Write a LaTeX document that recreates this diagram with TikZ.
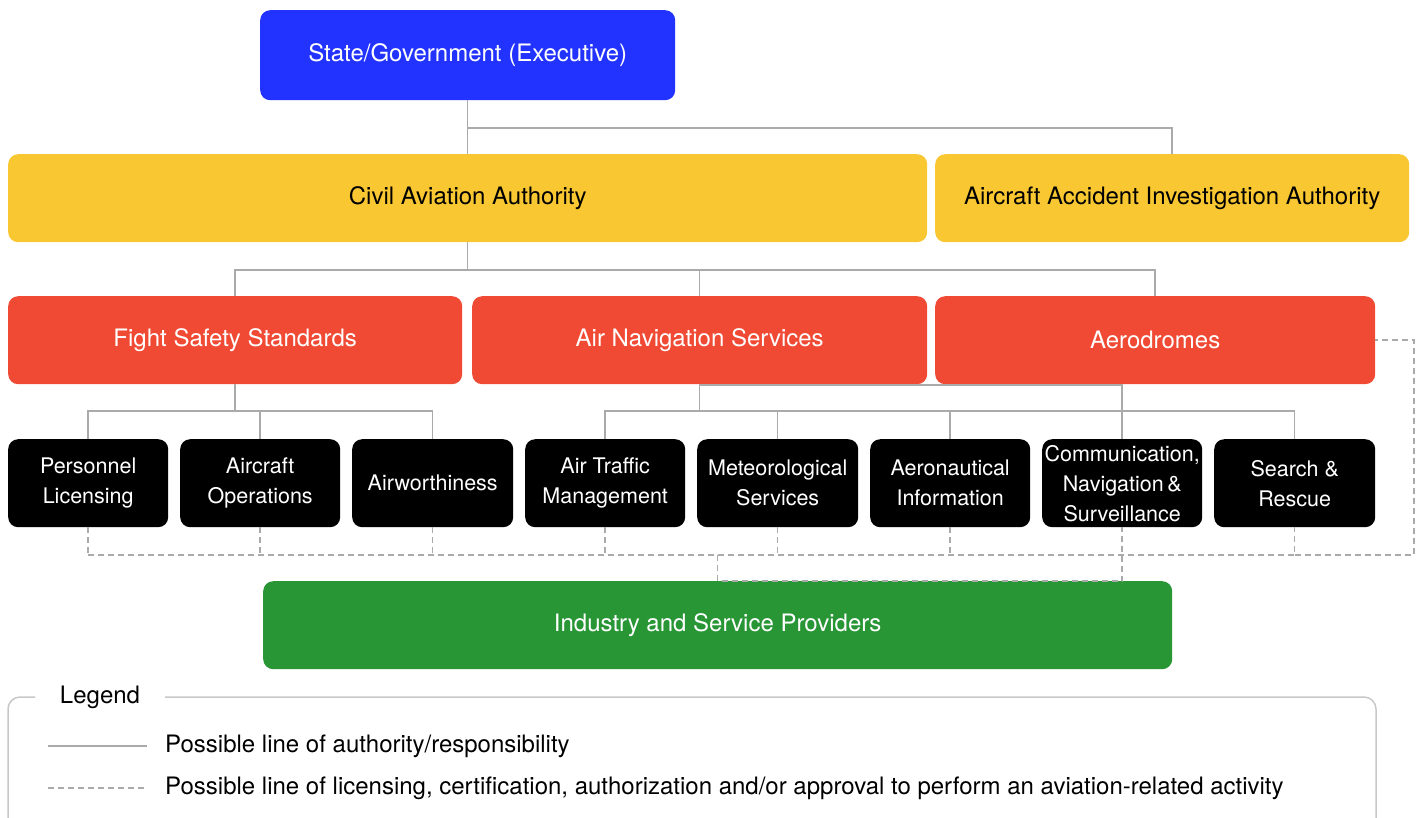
\documentclass[tikz,border=0pt]{standalone}
\usepackage{fontspec}
\setmainfont{TeX Gyre Heros}
\definecolor{govblue}{RGB}{34,51,255}
\definecolor{caayellow}{RGB}{248,199,50}
\definecolor{secred}{RGB}{240,74,52}
\definecolor{indgreen}{RGB}{41,150,54}
\definecolor{linegray}{RGB}{170,170,170}
\definecolor{leggray}{RGB}{200,200,200}
\begin{document}
\begin{tikzpicture}[x=1pt,y=-1pt,
  box/.style={rounded corners=10pt, inner sep=0pt, anchor=north west, align=center,
    font=\fontsize{24}{30}\selectfont},
  wbox/.style={box, text=white},
  sbox/.style={wbox, fill=black, minimum height=88pt, font=\fontsize{21.5}{30}\selectfont},
  conn/.style={draw=linegray, line width=1.5pt},
  dconn/.style={draw=linegray, line width=1.5pt, dash pattern=on 6pt off 4pt},
  legtext/.style={anchor=west, inner sep=0pt, font=\fontsize{24}{28}\selectfont}]
\useasboundingbox (0,0) rectangle (1418,817);
% level 0
\node[wbox, fill=govblue, minimum width=415pt, minimum height=90pt] (gov) at (260,10) {State/Government (Executive)};
% level 1
\node[box, fill=caayellow, minimum width=919pt, minimum height=88pt] (caa) at (8,154) {Civil Aviation Authority};
\node[box, fill=caayellow, minimum width=474pt, minimum height=88pt] (aaia) at (935,154) {Aircraft Accident Investigation Authority};
% level 2
\node[wbox, fill=secred, minimum width=454pt, minimum height=88pt] (fss) at (8,296) {Fight Safety Standards};
\node[wbox, fill=secred, minimum width=455pt, minimum height=88pt] (ans) at (472,296) {Air Navigation Services};
\node[wbox, fill=secred, minimum width=440pt, minimum height=88pt] (aero) at (935,296) {Aerodromes};
% level 3
\node[sbox, minimum width=160pt] (pl) at (8,439) {Personnel\\Licensing};
\node[sbox, minimum width=160pt] (ao) at (180,439) {Aircraft\\Operations};
\node[sbox, minimum width=161pt] (aw) at (352,439) {Airworthiness};
\node[sbox, minimum width=160pt] (atm) at (525,439) {Air Traffic\\Management};
\node[sbox, minimum width=161pt] (met) at (697,439) {Meteorological\\Services};
\node[sbox, minimum width=160pt] (ai) at (870,439) {Aeronautical\\Information};
\node[sbox, minimum width=160pt] (cns) at (1042,439) {Communication,\\Navigation\,\&\\Surveillance};
\node[sbox, minimum width=161pt] (sar) at (1214,439) {Search \&\\Rescue};
% industry
\node[wbox, fill=indgreen, minimum width=909pt, minimum height=88pt] (ind) at (263,581) {Industry and Service Providers};
% bus coordinates
\coordinate (busA) at (0,128);
\coordinate (busB) at (0,270);
\coordinate (busC) at (0,411);
\coordinate (busD) at (0,411);
\coordinate (busE) at (0,555);
\coordinate (busT) at (0,385);
\coordinate (rt) at (1414,555);
% solid connectors
\draw[conn] (gov.south) -- (caa.north);
\draw[conn] (gov.south |- busA) -| (aaia.north);
\draw[conn] (caa.south) -- (caa.south |- busB);
\draw[conn] (fss.north) |- (aero.north |- busB) -- (aero.north);
\draw[conn] (ans.north) -- (ans.north |- busB);
\draw[conn] (fss.south) -- (fss.south |- busC);
\draw[conn] (pl.north) |- (aw.north |- busC) -- (aw.north);
\draw[conn] (ao.north) -- (ao.north |- busC);
\draw[conn] (ans.south) -- (ans.south |- busD);
\draw[conn] (ans.south |- busT) -| (cns.north);
\draw[conn] (atm.north) |- (sar.north |- busD) -- (sar.north);
\foreach \n in {met,ai}{\draw[conn] (\n.north) -- (\n.north |- busD);}
% dashed connectors
\foreach \n in {pl,ao,aw,atm,met,ai}{\draw[dconn] (\n.south) -- (\n.south |- busE);}
\draw[dconn] (pl.south |- busE) -- (sar.south |- busE) -- (sar.south);
\draw[dconn] (sar.south |- busE) -- (rt) |- (aero.east);
\draw[dconn] (ind.north |- busE) -- (ind.north) -| (cns.south);
% legend
\draw[draw=leggray, line width=1.5pt, rounded corners=12pt] (8,830) -- (8,697) -- (35,697);
\draw[draw=leggray, line width=1.5pt, rounded corners=12pt] (165,697) -- (1376,697) -- (1376,830);
\node[legtext, anchor=center] (legtitle) at (100,697) {Legend};
\coordinate (ls1) at (48,746);
\coordinate (le1) at (147,746);
\coordinate (ls2) at (48,788);
\coordinate (le2) at (147,788);
\draw[conn] (ls1) -- (le1);
\draw[dconn] (ls2) -- (le2);
\node[legtext] (leg1) at (165,746) {Possible line of authority/responsibility};
\node[legtext] (leg2) at (165,788) {Possible line of licensing, certification, authorization and/or approval to perform an aviation-related activity};
\end{tikzpicture}
\end{document}
